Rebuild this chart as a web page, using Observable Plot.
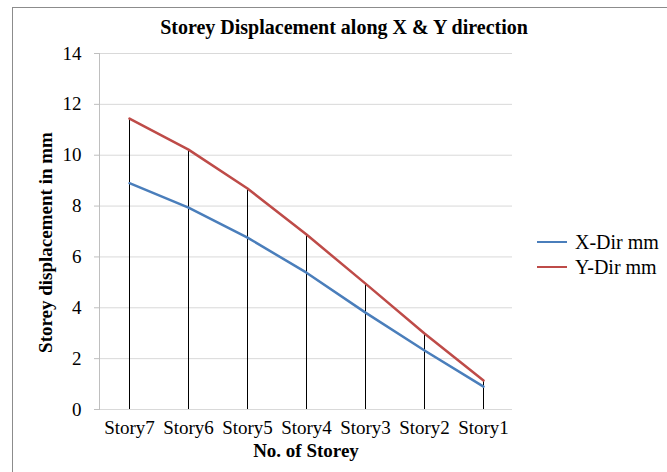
<!DOCTYPE html>
<html>
<head>
<meta charset="utf-8">
<script src="https://cdn.jsdelivr.net/npm/d3@7"></script>
<script src="https://cdn.jsdelivr.net/npm/@observablehq/plot@0.6"></script>
<style>
  html, body { margin: 0; padding: 0; background: #fff; }
  #wrap { position: relative; width: 667px; height: 472px; overflow: hidden; font-family: "Liberation Serif", "Times New Roman", serif; }
  #border { position: absolute; left: 12px; top: 7px; width: 680px; height: 490px; border: 1px solid #8c8c8c; box-sizing: border-box; }
  #title { position: absolute; left: 0; width: 688px; top: 15px; line-height: 24px; text-align: center; font-weight: bold; font-size: 20px; color: #000; font-family: "Liberation Serif", serif; }
  .leg { position: absolute; left: 537px; font-size: 20px; line-height: 20px; color: #000; display: flex; align-items: center; font-family: "Liberation Serif", serif; }
  .leg span.sw { display: inline-block; width: 30px; height: 2.5px; margin-right: 8px; }
  #chart { position: absolute; left: 0; top: 0; }
</style>
</head>
<body>
<div id="wrap">
  <div id="border"></div>
  <div id="chart"></div>
  <div id="title">Storey Displacement along X &amp; Y direction</div>
  <div class="leg" style="top:232px"><span class="sw" style="background:#4a7ebb"></span>X-Dir mm</div>
  <div class="leg" style="top:257px"><span class="sw" style="background:#be4b48"></span>Y-Dir mm</div>
</div>
<script>
const stories = ["Story7", "Story6", "Story5", "Story4", "Story3", "Story2", "Story1"];
const xDir = [8.9, 7.94, 6.76, 5.38, 3.81, 2.32, 0.9];
const yDir = [11.44, 10.22, 8.69, 6.88, 4.95, 2.99, 1.14];
const yTicks = [0, 2, 4, 6, 8, 10, 12, 14];

const xData = stories.map((s, i) => ({story: s, value: xDir[i]}));
const yData = stories.map((s, i) => ({story: s, value: yDir[i]}));

const chart = Plot.plot({
  width: 667,
  height: 472,
  marginLeft: 99,
  marginRight: 155,
  marginTop: 53,
  marginBottom: 63,
  style: { fontFamily: "'Liberation Serif', 'Times New Roman', serif", fontSize: "20px", color: "#000", background: "transparent" },
  x: { type: "point", domain: stories, padding: 0.5, label: null },
  y: { domain: [0, 14], ticks: yTicks, label: null },
  marks: [
    Plot.ruleY(yTicks, { stroke: "#d9d9d9", strokeWidth: 1 }),
    Plot.axisY({ ticks: yTicks, tickSize: 5, tickPadding: 13, stroke: "#bfbfbf", tickFormat: d => String(d), fontSize: 19 }),
    Plot.frame({ anchor: "left", stroke: "#bfbfbf" }),
    Plot.axisX({ tickSize: 0, tickPadding: 11, fontSize: 19, label: null }),
    Plot.ruleX(yData, { x: "story", y1: 0, y2: "value", stroke: "#000", strokeWidth: 1 }),
    Plot.line(xData, { x: "story", y: "value", stroke: "#4a7ebb", strokeWidth: 2.5 }),
    Plot.line(yData, { x: "story", y: "value", stroke: "#be4b48", strokeWidth: 2.5 }),
    Plot.text(["No. of Storey"], { frameAnchor: "bottom", dy: 47, fontWeight: "bold", fontSize: 19 }),
    Plot.text(["Storey displacement in mm"], { frameAnchor: "left", textAnchor: "middle", dx: -54, dy: 11, rotate: -90, fontWeight: "bold", fontSize: 19 })
  ]
});
document.getElementById("chart").appendChild(chart);
</script>
</body>
</html>
